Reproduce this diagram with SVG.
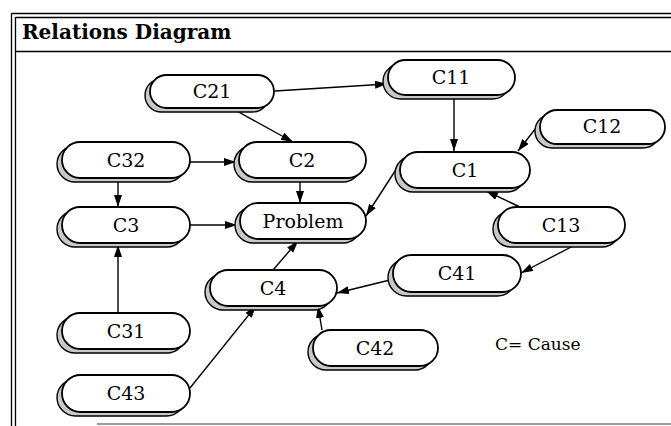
<svg xmlns="http://www.w3.org/2000/svg" width="671" height="426" viewBox="0 0 671 426">
  <style>
    .frame { stroke: #000; stroke-width: 1.3; fill: none; }
    .pill { fill: #fff; stroke: #000; stroke-width: 1.8; }
    .shadow { fill: #c8c8c8; stroke: #000; stroke-width: 1.4; }
    .lbl { font-family: "DejaVu Serif", "Liberation Serif", serif; font-size: 19px; fill: #000; text-anchor: middle; }
    .title { font-family: "DejaVu Serif", "Liberation Serif", serif; font-size: 20px; font-weight: bold; fill: #000; }
    .note { font-family: "DejaVu Serif", "Liberation Serif", serif; font-size: 17px; fill: #000; }
    .edge { stroke: #000; stroke-width: 1.4; fill: none; marker-end: url(#arrow); }
  </style>
  <defs>
    <marker id="arrow" markerUnits="userSpaceOnUse" markerWidth="13" markerHeight="10" refX="12" refY="4" orient="auto">
      <path d="M0,0 L12,4 L0,8 Z" fill="#000"/>
    </marker>
  </defs>

  <rect width="671" height="426" fill="#fff"/>

  <!-- frame and title bar -->
  <g id="frame">
    <line class="frame" x1="11.5" y1="13" x2="11.5" y2="426"/>
    <line class="frame" x1="15.5" y1="17" x2="15.5" y2="426"/>
    <line class="frame" x1="11.5" y1="13.5" x2="671" y2="13.5"/>
    <line class="frame" x1="15.5" y1="17.5" x2="671" y2="17.5"/>
    <line x1="15.5" y1="51.5" x2="671" y2="51.5" stroke="#000" stroke-width="1.6"/>
    <line x1="97" y1="424" x2="671" y2="424" stroke="#9a9a9a" stroke-width="2"/>
    <text class="title" x="22" y="39">Relations Diagram</text>
  </g>

  <!-- connectors -->
  <g id="connectors">
    <line class="edge" x1="275" y1="91" x2="387" y2="84"/>
    <line class="edge" x1="235" y1="110" x2="293" y2="142"/>
    <line class="edge" x1="454" y1="96" x2="454" y2="151"/>
    <line class="edge" x1="536" y1="128" x2="518" y2="151"/>
    <line class="edge" x1="397" y1="168" x2="366" y2="216"/>
    <line class="edge" x1="520" y1="207" x2="486" y2="191"/>
    <line class="edge" x1="575" y1="245" x2="521" y2="273"/>
    <line class="edge" x1="390" y1="280" x2="337" y2="293"/>
    <line class="edge" x1="322" y1="330" x2="318" y2="306"/>
    <line class="edge" x1="273" y1="270" x2="298" y2="241"/>
    <line class="edge" x1="190" y1="388" x2="256" y2="306"/>
    <line class="edge" x1="118" y1="313" x2="118" y2="245"/>
    <line class="edge" x1="118" y1="178" x2="118" y2="207"/>
    <line class="edge" x1="190" y1="162" x2="236" y2="162"/>
    <line class="edge" x1="190" y1="225" x2="237" y2="225"/>
    <line class="edge" x1="300" y1="178" x2="300" y2="203"/>
  </g>

  <!-- nodes: shadow pill offset down-left, white pill on top -->
  <g id="C21">
    <rect class="shadow" x="145" y="79" width="124" height="33" rx="16.5"/>
    <rect class="pill" x="150" y="75" width="124" height="33" rx="16.5"/>
    <text class="lbl" x="212" y="98">C21</text>
  </g>
  <g id="C11">
    <rect class="shadow" x="383" y="64" width="127" height="35" rx="17.5"/>
    <rect class="pill" x="388" y="60" width="127" height="35" rx="17.5"/>
    <text class="lbl" x="451" y="84">C11</text>
  </g>
  <g id="C12">
    <rect class="shadow" x="535" y="114" width="125" height="34" rx="17"/>
    <rect class="pill" x="540" y="110" width="125" height="34" rx="17"/>
    <text class="lbl" x="602" y="133">C12</text>
  </g>
  <g id="C1">
    <rect class="shadow" x="395" y="156" width="130" height="36" rx="18"/>
    <rect class="pill" x="400" y="152" width="130" height="36" rx="18"/>
    <text class="lbl" x="465" y="177">C1</text>
  </g>
  <g id="C2">
    <rect class="shadow" x="234" y="146" width="127" height="36" rx="18"/>
    <rect class="pill" x="239" y="142" width="127" height="36" rx="18"/>
    <text class="lbl" x="302" y="167">C2</text>
  </g>
  <g id="C32">
    <rect class="shadow" x="57" y="146" width="128" height="36" rx="18"/>
    <rect class="pill" x="62" y="142" width="128" height="36" rx="18"/>
    <text class="lbl" x="126" y="167">C32</text>
  </g>
  <g id="C3">
    <rect class="shadow" x="57" y="211" width="128" height="36" rx="18"/>
    <rect class="pill" x="62" y="207" width="128" height="36" rx="18"/>
    <text class="lbl" x="126" y="232">C3</text>
  </g>
  <g id="Problem">
    <rect class="shadow" x="235" y="207" width="126" height="36" rx="18"/>
    <rect class="pill" x="240" y="203" width="126" height="36" rx="18"/>
    <text class="lbl" x="303" y="228">Problem</text>
  </g>
  <g id="C13">
    <rect class="shadow" x="493" y="211" width="127" height="36" rx="18"/>
    <rect class="pill" x="498" y="207" width="127" height="36" rx="18"/>
    <text class="lbl" x="561" y="232">C13</text>
  </g>
  <g id="C41">
    <rect class="shadow" x="388" y="259" width="128" height="37" rx="18.5"/>
    <rect class="pill" x="393" y="255" width="128" height="37" rx="18.5"/>
    <text class="lbl" x="457" y="280">C41</text>
  </g>
  <g id="C4">
    <rect class="shadow" x="205" y="274" width="127" height="36" rx="18"/>
    <rect class="pill" x="210" y="270" width="127" height="36" rx="18"/>
    <text class="lbl" x="273" y="295">C4</text>
  </g>
  <g id="C42">
    <rect class="shadow" x="308" y="334" width="125" height="36" rx="18"/>
    <rect class="pill" x="313" y="330" width="125" height="36" rx="18"/>
    <text class="lbl" x="375" y="355">C42</text>
  </g>
  <g id="C31">
    <rect class="shadow" x="57" y="317" width="128" height="36" rx="18"/>
    <rect class="pill" x="62" y="313" width="128" height="36" rx="18"/>
    <text class="lbl" x="126" y="338">C31</text>
  </g>
  <g id="C43">
    <rect class="shadow" x="57" y="379" width="128" height="37" rx="18.5"/>
    <rect class="pill" x="62" y="375" width="128" height="37" rx="18.5"/>
    <text class="lbl" x="126" y="400">C43</text>
  </g>

  <g id="legend">
    <text class="note" x="495" y="350">C= Cause</text>
  </g>
</svg>
